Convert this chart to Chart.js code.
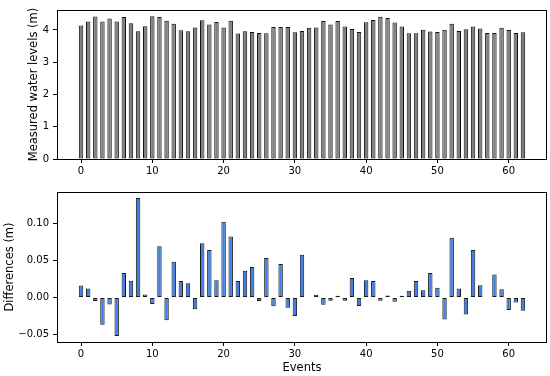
<!DOCTYPE html>
<html>
<head>
<meta charset="utf-8">
<script src="https://cdn.jsdelivr.net/npm/chart.js@4.4.1/dist/chart.umd.min.js"></script>
<style>
  body { margin: 0; background: #fff; }
  #wrap { position: relative; width: 550px; height: 376px; }
  canvas { position: absolute; left: 0; }
</style>
</head>
<body>
<div id="wrap">
  <canvas id="top" width="550" height="182" style="top:0"></canvas>
  <canvas id="bottom" width="550" height="194" style="top:182px"></canvas>
</div>
<script>
// events 0..62
var events = [];
for (var i = 0; i <= 62; i++) events.push(i);

var levels = [4.14, 4.26, 4.42, 4.26, 4.36, 4.26, 4.40, 4.21, 3.96, 4.12,
  4.43, 4.40, 4.29, 4.19, 3.99, 3.96, 4.08, 4.30, 4.17, 4.25,
  4.08, 4.29, 3.89, 3.96, 3.94, 3.91, 3.90, 4.09, 4.09, 4.09,
  3.93, 3.97, 4.07, 4.08, 4.28, 4.17, 4.28, 4.11, 4.03, 3.94,
  4.24, 4.31, 4.41, 4.37, 4.23, 4.11, 3.90, 3.90, 4.01, 3.95,
  3.94, 4.01, 4.19, 3.97, 4.02, 4.11, 4.05, 3.91, 3.91, 4.07,
  4.00, 3.91, 3.93];

var diffs = [0.016, 0.012, -0.005, -0.037, -0.0095, -0.052, 0.033, 0.0225, 0.134, 0.004,
  -0.009, 0.069, -0.031, 0.048, 0.022, 0.019, -0.016, 0.073, 0.064, 0.023,
  0.102, 0.082, 0.022, 0.036, 0.041, -0.005, 0.053, -0.012, 0.045, -0.014,
  -0.025, 0.0575, 0.0005, 0.0035, -0.010, -0.0045, 0.0022, -0.0045, 0.026, -0.0115,
  0.023, 0.022, -0.0045, 0.0027, -0.006, 0.0022, 0.009, 0.022, 0.0097, 0.033,
  0.013, -0.030, 0.0805, 0.012, -0.023, 0.064, 0.0165, 0.0004, 0.031, 0.011,
  -0.017, -0.007, -0.018];

var xTicks = [0, 10, 20, 30, 40, 50, 60];
var levelTicks = [0, 1, 2, 3, 4];
var diffTicks = [-0.05, 0, 0.05, 0.10];

var tickFont = { family: 'DejaVu Sans', size: 10 };
var labelFont = { family: 'DejaVu Sans', size: 11.5 };

function pts(ys) {
  return events.map(function (x, i) { return { x: x, y: ys[i] }; });
}

// box around the plot area, like matplotlib spines
var frame = {
  id: 'frame',
  afterDatasetsDraw: function (chart) {
    var a = chart.chartArea, c = chart.ctx;
    c.save();
    c.strokeStyle = '#000';
    c.lineWidth = 1;
    c.strokeRect(Math.round(a.left) + 0.5, Math.round(a.top) + 0.5,
      Math.round(a.right - a.left) - 1, Math.round(a.bottom - a.top));
    c.restore();
  }
};

function tickGrid() {
  return { display: true, drawOnChartArea: false, drawTicks: true, tickLength: 4, color: '#000', offset: false };
}

function xScale(h, title) {
  return {
    type: 'linear', min: -3.375, max: 65.375, offset: false,
    grid: tickGrid(), border: { display: false },
    afterBuildTicks: function (s) { s.ticks = xTicks.map(function (v) { return { value: v }; }); },
    afterFit: function (s) { s.height = h; },
    ticks: { font: tickFont, color: '#000', padding: 2, maxRotation: 0 },
    title: title ? { display: true, text: title, font: labelFont, color: '#000', padding: { top: 0, bottom: 1 } } : { display: false }
  };
}

function yScale(min, max, tickVals, fmt, title, titlePad) {
  return {
    min: min, max: max,
    grid: tickGrid(), border: { display: false },
    afterBuildTicks: function (s) { s.ticks = tickVals.map(function (v) { return { value: v }; }); },
    afterFit: function (s) { s.width = 57; },
    ticks: { font: tickFont, color: '#000', padding: 4, callback: fmt },
    title: { display: true, text: title, font: labelFont, color: '#000', padding: { top: titlePad, bottom: 0 } }
  };
}

new Chart(document.getElementById('top').getContext('2d'), {
  type: 'bar',
  data: {
    datasets: [{
      data: pts(levels),
      backgroundColor: '#808080',
      borderColor: '#111',
      borderWidth: 1,
      borderSkipped: false,
      inflateAmount: 0,
      barPercentage: 0.62,
      categoryPercentage: 1.0
    }]
  },
  options: {
    responsive: false, animation: false, devicePixelRatio: 1,
    layout: { padding: { top: 0, right: 3, left: 0, bottom: 0 } },
    plugins: { legend: { display: false }, tooltip: { enabled: false } },
    scales: {
      x: xScale(23, null),
      y: yScale(0, 4.62, levelTicks, function (v) { return String(v); }, 'Measured water levels (m)', 27)
    }
  },
  plugins: [frame]
});

new Chart(document.getElementById('bottom').getContext('2d'), {
  type: 'bar',
  data: {
    datasets: [{
      data: pts(diffs),
      backgroundColor: '#3f7fe6',
      borderColor: '#1a1a1a',
      borderWidth: 1,
      borderSkipped: false,
      inflateAmount: 0,
      barPercentage: 0.62,
      categoryPercentage: 1.0
    }]
  },
  options: {
    responsive: false, animation: false, devicePixelRatio: 1,
    layout: { padding: { top: 0, right: 3, left: 0, bottom: 0 } },
    plugins: { legend: { display: false }, tooltip: { enabled: false } },
    scales: {
      x: xScale(34, 'Events'),
      y: yScale(-0.0602, 0.1422, diffTicks, function (v) {
        var s = Math.abs(v).toFixed(2);
        return v < 0 ? '\u2212' + s : s;
      }, 'Differences (m)', 3)
    }
  },
  plugins: [frame]
});
</script>
</body>
</html>
